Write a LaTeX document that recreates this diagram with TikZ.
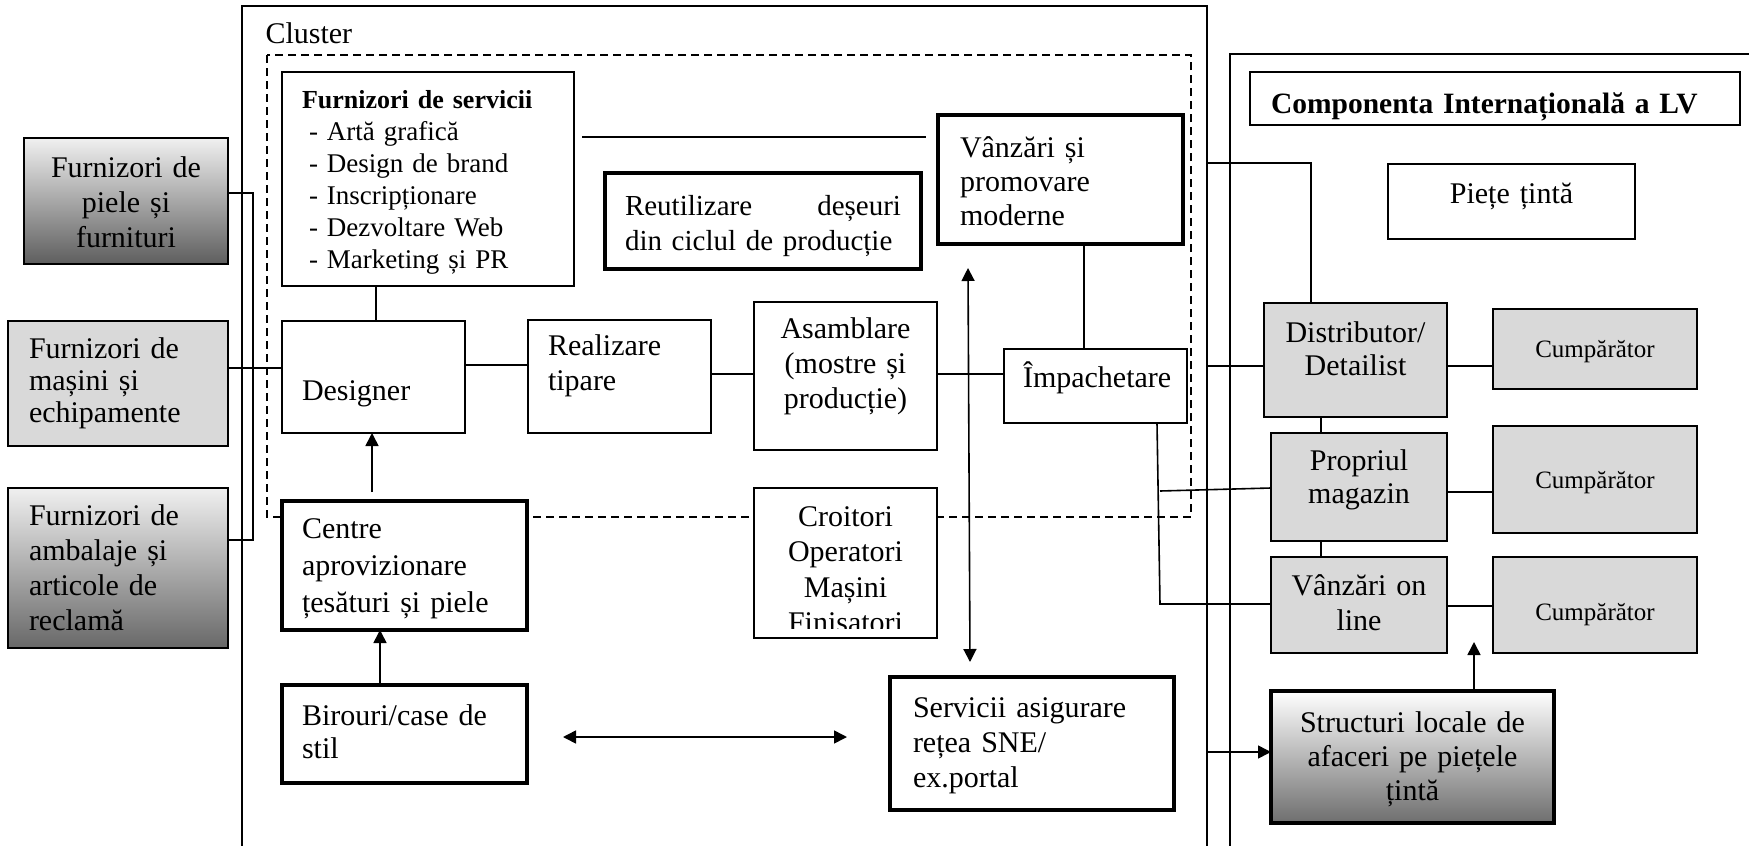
\documentclass[tikz,border=0pt]{standalone}
\usepackage{fontspec}
\setmainfont{Liberation Serif}
\usetikzlibrary{arrows.meta}
\definecolor{boxgray}{HTML}{D9D9D9}
\definecolor{shadelight}{HTML}{F0F0F0}
\definecolor{shademid}{HTML}{B4B4B4}
\definecolor{shadedark}{HTML}{5E5E5E}
\definecolor{packmid}{HTML}{C8C8C8}
\definecolor{packdark}{HTML}{686868}
\definecolor{localmid}{HTML}{D6D6D6}
\definecolor{localdark}{HTML}{6E6E6E}
\begin{document}
\begin{tikzpicture}[x=1pt,y=-1pt,
  plainbox/.style={draw, line width=2pt, fill=white, rectangle, inner sep=0pt, outer sep=0pt},
  heavybox/.style={plainbox, line width=4pt},
  graybox/.style={plainbox, fill=boxgray},
  txt/.style={font=\fontsize{30}{#1}\selectfont},
  buyerfont/.style={font=\fontsize{25}{30}\selectfont},
  outline/.style={line width=2pt},
  link/.style={line width=1.6pt},
  arrowlink/.style={link, -{Triangle[length=13pt,width=13pt]}},
  dualarrow/.style={link, {Triangle[length=13pt,width=13pt]}-{Triangle[length=13pt,width=13pt]}},
]
\useasboundingbox (0,0) rectangle (1749,846);

% cluster frame, international frame, inner dashed zone
\draw[outline] (242,846) -- (242,6) -- (1207,6) -- (1207,846);
\draw[outline] (1230,846) -- (1230,54) -- (1749,54);
\draw[line width=1.6pt, dash pattern=on 8pt off 5pt] (267,55) rectangle (1191,517);
\node[txt=35, anchor=base west] (clusterlabel) at (262,43) {Cluster};

% suppliers outside the cluster
\node[plainbox, top color=shadelight, middle color=shademid, bottom color=shadedark,
  minimum width=204pt, minimum height=126pt, text width=190pt, align=center,
  txt=35, text height=0pt, text depth=48pt] (piele) at (126,201)
  {Furnizori de\\piele și\\furnituri};
\node[graybox, minimum width=220pt, minimum height=125pt, text width=178pt, align=left,
  txt=32, text height=0pt, text depth=51pt] (masini) at (118,383.5)
  {Furnizori de\\mașini și\\echipamente};
\node[plainbox, top color=shadelight, middle color=packmid, bottom color=packdark,
  minimum width=220pt, minimum height=160pt, text width=178pt, align=left,
  txt=35, text height=0pt, text depth=86pt] (ambalaje) at (118,568)
  {Furnizori de\\ambalaje și\\articole de\\reclamă};

% cluster content
\node[plainbox, minimum width=292pt, minimum height=214pt, text width=252pt, align=left,
  font=\fontsize{27}{32}\selectfont, text height=0pt, text depth=142pt] (servicii) at (428,179)
  {{\fontsize{26}{32}\selectfont\bfseries Furnizori de servicii}\\
   \hspace*{7pt}- Artă grafică\\
   \hspace*{7pt}- Design de brand\\
   \hspace*{7pt}- Inscripționare\\
   \hspace*{7pt}- Dezvoltare Web\\
   \hspace*{7pt}- Marketing și PR};
\node[plainbox, minimum width=183pt, minimum height=112pt, text width=143pt, align=left,
  txt=35, text height=46pt, text depth=0pt] (designer) at (373.5,377) {Designer};
\node[plainbox, minimum width=183pt, minimum height=113pt, text width=143pt, align=left,
  txt=35, text height=0pt, text depth=43pt] (tipare) at (619.5,376.5) {Realizare\\tipare};
\node[plainbox, minimum width=183pt, minimum height=148pt, text width=175pt, align=center,
  txt=35, text height=0pt, text depth=76pt] (asamblare) at (845.5,376)
  {Asamblare\\(mostre și\\producție)};
\node[plainbox, minimum width=183pt, minimum height=74pt, text width=145pt, align=left,
  txt=35, text height=2pt, text depth=0pt] (impachetare) at (1095.5,386) {Împachetare};
\node[heavybox, minimum width=316pt, minimum height=96pt, text width=276pt, align=left,
  font=\fontsize{29}{35}\selectfont, text height=0pt, text depth=12pt] (deseuri) at (763,221)
  {Reutilizare\hfill deșeuri\\din ciclul de producție};
\node[heavybox, minimum width=245pt, minimum height=129pt, text width=201pt, align=left,
  txt=34, text height=0pt, text depth=45pt] (vanzari) at (1060.5,179.5)
  {Vânzări și\\promovare\\moderne};
\node[heavybox, minimum width=245pt, minimum height=129pt, text width=205pt, align=left,
  txt=37, text height=0pt, text depth=55pt] (centre) at (404.5,565.5)
  {Centre\\aprovizionare\\țesături și piele};
\node[heavybox, minimum width=245pt, minimum height=98pt, text width=205pt, align=left,
  txt=33, text height=0pt, text depth=18pt] (birouri) at (404.5,734)
  {Birouri/case de\\stil};
\begin{scope}
  \clip (700,0) rectangle (1000,628);
  \node[plainbox, draw=none, minimum width=183pt, minimum height=150pt, text width=175pt,
    align=center, txt=35.5, text height=0pt, text depth=74pt] (croitori) at (845.5,563)
    {Croitori\\Operatori\\Mașini\\Finisatori};
\end{scope}
\draw[outline] (croitori.south west) rectangle (croitori.north east);
\node[heavybox, minimum width=284pt, minimum height=133pt, text width=238pt, align=left,
  txt=35, text height=0pt, text depth=53pt] (sne) at (1032,743.5)
  {Servicii asigurare\\rețea SNE/\\ex.portal};

% international component
\node[plainbox, minimum width=490pt, minimum height=53pt, text width=448pt, align=left,
  font=\fontsize{29.5}{34}\selectfont\bfseries, text height=29pt, text depth=0pt] (intl) at (1495,98.5)
  {Componenta Internațională a LV};
\node[plainbox, minimum width=247pt, minimum height=75pt, text width=230pt, align=center,
  txt=35, text height=3pt, text depth=0pt] (piete) at (1511.5,201.5) {Piețe țintă};
\node[graybox, minimum width=183pt, minimum height=114pt, text width=175pt, align=center,
  txt=33, text height=0pt, text depth=36pt] (distributor) at (1355.5,360)
  {Distributor/\\Detailist};
\node[graybox, minimum width=176pt, minimum height=108pt, text width=170pt, align=center,
  txt=33.5, text height=0pt, text depth=34pt] (magazin) at (1359,487)
  {Propriul\\magazin};
\node[graybox, minimum width=176pt, minimum height=96pt, text width=170pt, align=center,
  txt=35, text height=0pt, text depth=20pt] (online) at (1359,605)
  {Vânzări on\\line};
\node[graybox, minimum width=204pt, minimum height=80pt, text width=190pt, align=center,
  buyerfont, text height=16pt, text depth=0pt] (buyerA) at (1595,349) {Cumpărător};
\node[graybox, minimum width=204pt, minimum height=107pt, text width=190pt, align=center,
  buyerfont, text height=17pt, text depth=0pt] (buyerB) at (1595,479.5) {Cumpărător};
\node[graybox, minimum width=204pt, minimum height=96pt, text width=190pt, align=center,
  buyerfont, text height=30pt, text depth=0pt] (buyerC) at (1595,605) {Cumpărător};
\node[heavybox, top color=white, middle color=localmid, bottom color=localdark,
  minimum width=283pt, minimum height=132pt, text width=260pt, align=center,
  txt=34, text height=0pt, text depth=50pt] (locale) at (1412.5,757)
  {Structuri locale de\\afaceri pe piețele\\țintă};

% free ends of connectors
\coordinate (busTop) at (253,193);
\coordinate (busBottom) at (253,540);
\coordinate (machRow) at (0,368);
\coordinate (svcStart) at (582,137);
\coordinate (svcEnd) at (926,137);
\coordinate (saleTop) at (968,268);
\coordinate (saleBottom) at (970,662);
\coordinate (styleLeft) at (563,737);
\coordinate (styleRight) at (847,737);
\coordinate (centreOut) at (372,492);
\coordinate (packTurn) at (1160,604);
\coordinate (packBranch) at (1160,491);
\coordinate (shopRow) at (0,488);
\coordinate (edgeHigh) at (1207,163);
\coordinate (edgeBend) at (1311,163);
\coordinate (edgeMid) at (1207,366);
\coordinate (edgeLow) at (1207,752);
\coordinate (localTip) at (1474,642);

% supplier links
\draw[link] (piele.east |- busTop) -- (busTop) -- (busBottom) -- (ambalaje.east |- busBottom);
\draw[link] (masini.east |- machRow) -- (designer.west |- machRow);

% cluster links
\draw[link] (servicii.south -| 376,0) -- (designer.north -| 376,0);
\draw[link] (svcStart) -- (svcEnd);
\draw[link] (designer.east |- 0,365) -- (tipare.west |- 0,365);
\draw[link] (tipare.east |- 0,374) -- (asamblare.west |- 0,374);
\draw[link] (asamblare.east |- 0,374) -- (impachetare.west |- 0,374);
\draw[link] (vanzari.south -| 1084,0) -- (impachetare.north -| 1084,0);
\draw[dualarrow] (saleTop) -- (saleBottom);
\draw[dualarrow] (styleLeft) -- (styleRight);
\draw[arrowlink] (centreOut) -- (designer.south -| centreOut);
\draw[arrowlink] (birouri.north -| 380,0) -- (centre.south -| 380,0);

% distribution links
\draw[link] (impachetare.south -| 1157,0) -- (packTurn) -- (online.west |- packTurn);
\draw[link] (packBranch) -- (magazin.west |- shopRow);
\draw[link] (edgeHigh) -- (edgeBend) -- (distributor.north -| edgeBend);
\draw[link] (edgeMid) -- (distributor.west |- edgeMid);
\draw[link] (distributor.east |- 0,366) -- (buyerA.west |- 0,366);
\draw[link] (distributor.south -| 1321,0) -- (magazin.north -| 1321,0);
\draw[link] (magazin.east |- 0,492) -- (buyerB.west |- 0,492);
\draw[link] (magazin.south -| 1321,0) -- (online.north -| 1321,0);
\draw[link] (online.east |- 0,606) -- (buyerC.west |- 0,606);
\draw[arrowlink] (edgeLow) -- (locale.west |- edgeLow);
\draw[arrowlink] (locale.north -| localTip) -- (localTip);
\end{tikzpicture}
\end{document}
